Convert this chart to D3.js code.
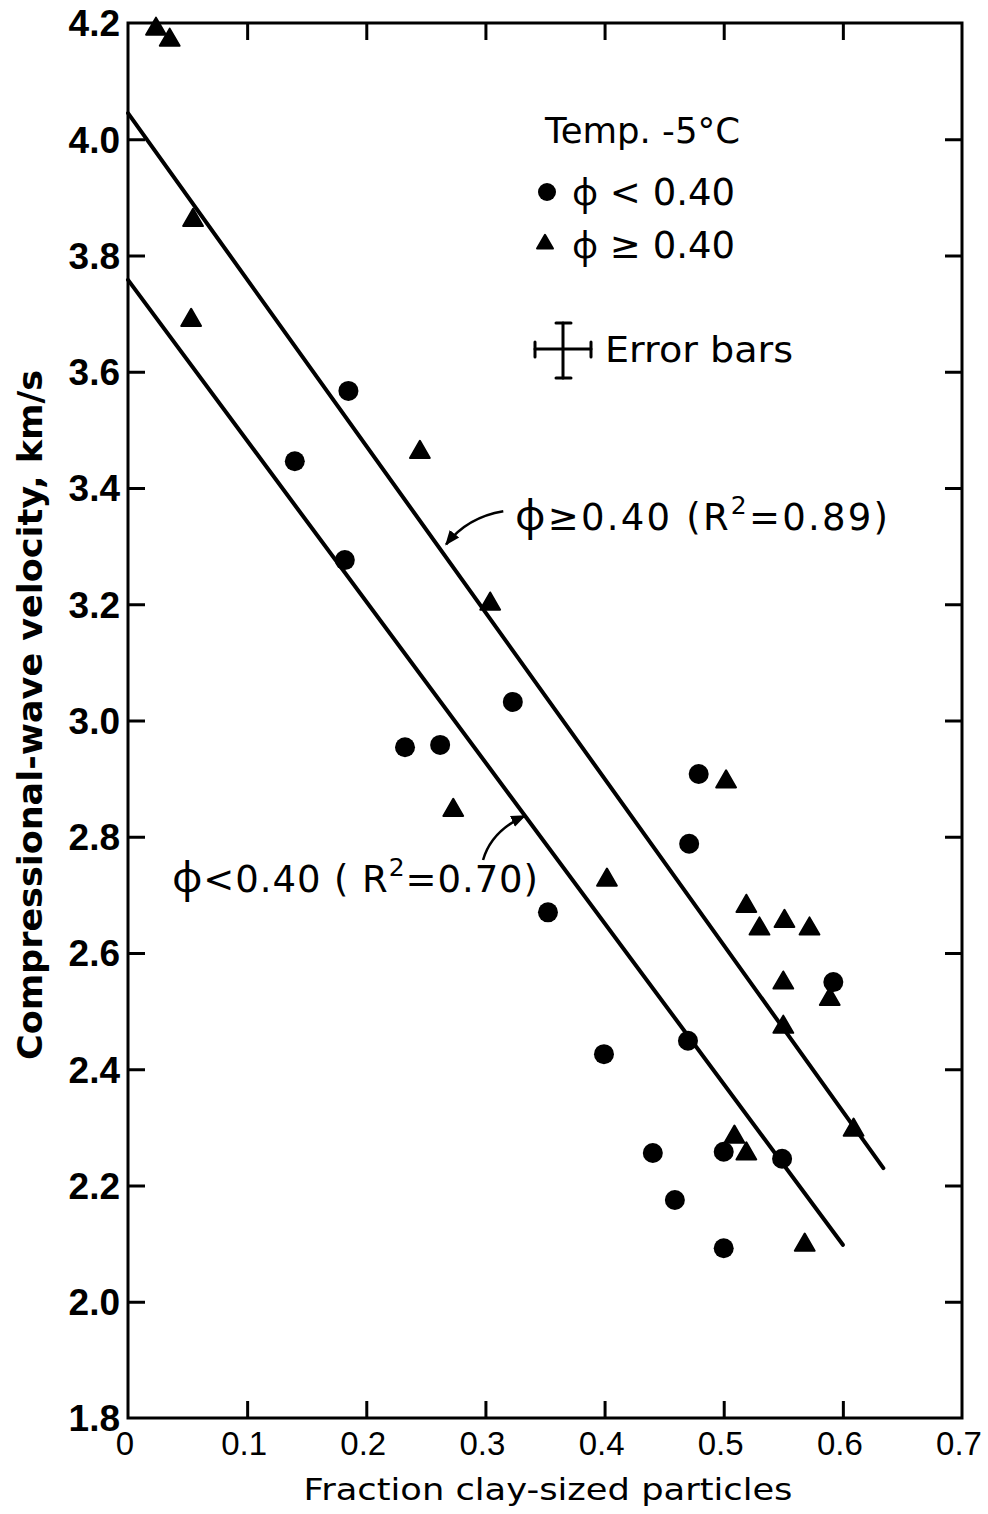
<!DOCTYPE html>
<html>
<head>
<meta charset="utf-8">
<script src="https://cdn.jsdelivr.net/npm/d3@7"></script>
<style>
  html, body { margin: 0; padding: 0; background: #fff; }
  svg { display: block; }
  text { fill: #000; font-family: "DejaVu Sans", sans-serif; }
  .phi { font-family: "Noto Sans", sans-serif; }
</style>
</head>
<body>
<svg id="chart" width="988" height="1514"></svg>
<script>
// ---- data ----
const xTicks = [0, 0.1, 0.2, 0.3, 0.4, 0.5, 0.6, 0.7];
const xTickLabels = ["0", "0.1", "0.2", "0.3", "0.4", "0.5", "0.6", "0.7"];
const yTicks = [1.8, 2.0, 2.2, 2.4, 2.6, 2.8, 3.0, 3.2, 3.4, 3.6, 3.8, 4.0, 4.2];
const yTickLabels = ["1.8", "2.0", "2.2", "2.4", "2.6", "2.8", "3.0", "3.2", "3.4", "3.6", "3.8", "4.0", "4.2"];

// phi < 0.40 (circles)
const circleX = [0.140, 0.185, 0.182, 0.2325, 0.262, 0.323, 0.3525, 0.479, 0.471, 0.592, 0.470, 0.3995, 0.4405, 0.500, 0.549, 0.459, 0.500];
const circleY = [3.446, 3.567, 3.276, 2.954, 2.958, 3.032, 2.670, 2.908, 2.788, 2.550, 2.449, 2.426, 2.256, 2.258, 2.246, 2.175, 2.092];

// phi >= 0.40 (triangles)
const triX = [0.0235, 0.035, 0.0546, 0.053, 0.245, 0.304, 0.273, 0.402, 0.502, 0.519, 0.530, 0.551, 0.572, 0.550, 0.589, 0.550, 0.609, 0.509, 0.519, 0.568];
const triY = [4.193, 4.174, 3.864, 3.692, 3.465, 3.204, 2.849, 2.729, 2.898, 2.684, 2.645, 2.658, 2.645, 2.552, 2.524, 2.476, 2.299, 2.287, 2.258, 2.101];

// regression lines [x, y] end points
const fitHigh = [[0, 4.045], [0.634, 2.23]];   // phi >= 0.40, R2 = 0.89
const fitLow = [[0, 3.758], [0.600, 2.098]];   // phi < 0.40, R2 = 0.70

// ---- layout ----
const mLeft = 128, mRight = 962, mTop = 23, mBottom = 1418;
const svg = d3.select("#chart");
const x = d3.scaleLinear().domain([0, 0.7]).range([mLeft, mRight]);
const y = d3.scaleLinear().domain([1.8, 4.2]).range([mBottom, mTop]);

const tickLen = 17;
const axisG = svg.append("g");

// frame
axisG.append("rect")
  .attr("x", mLeft).attr("y", mTop)
  .attr("width", mRight - mLeft).attr("height", mBottom - mTop)
  .attr("fill", "none").attr("stroke", "#000").attr("stroke-width", 3);

// inward ticks via d3 axes
const innerX = xTicks.filter(v => v > 0 && v < 0.7);
const innerY = yTicks.filter(v => v > 1.8 && v < 4.2);
function styleAxis(g) {
  g.select(".domain").remove();
  g.selectAll(".tick line").attr("stroke", "#000").attr("stroke-width", 3);
  g.selectAll(".tick text").remove();
}
axisG.append("g").attr("transform", `translate(0,${mBottom})`)
  .call(d3.axisBottom(x).tickValues(innerX).tickSize(-tickLen)).call(styleAxis);
axisG.append("g").attr("transform", `translate(0,${mTop})`)
  .call(d3.axisTop(x).tickValues(innerX).tickSize(-tickLen)).call(styleAxis);
axisG.append("g").attr("transform", `translate(${mLeft},0)`)
  .call(d3.axisLeft(y).tickValues(innerY).tickSize(-tickLen)).call(styleAxis);
axisG.append("g").attr("transform", `translate(${mRight},0)`)
  .call(d3.axisRight(y).tickValues(innerY).tickSize(-tickLen)).call(styleAxis);

// tick labels
svg.append("g").selectAll("text").data(xTicks).join("text")
  .attr("x", d => x(d) - 3).attr("y", 1455)
  .attr("text-anchor", "middle")
  .style("font-family", "'Liberation Sans', sans-serif")
  .style("font-size", "33px")
  .text((d, i) => xTickLabels[i]);

svg.append("g").selectAll("text").data(yTicks).join("text")
  .attr("x", 120).attr("y", d => y(d))
  .attr("dy", "0.36em")
  .attr("text-anchor", "end")
  .style("font-family", "'Liberation Sans', sans-serif")
  .style("font-weight", "bold")
  .style("font-size", "37px")
  .text((d, i) => yTickLabels[i]);

// axis titles
svg.append("text")
  .attr("x", 548).attr("y", 1500)
  .attr("text-anchor", "middle")
  .attr("textLength", 489).attr("lengthAdjust", "spacingAndGlyphs")
  .style("font-size", "31px")
  .text("Fraction clay-sized particles");

svg.append("text")
  .attr("transform", "translate(42,715) rotate(-90)")
  .attr("text-anchor", "middle")
  .attr("textLength", 690).attr("lengthAdjust", "spacingAndGlyphs")
  .style("font-size", "33px")
  .style("font-weight", "bold")
  .text("Compressional-wave velocity, km/s");

// regression lines
const line = d3.line().x(d => x(d[0])).y(d => y(d[1]));
svg.append("path").datum(fitHigh).attr("d", line)
  .attr("stroke", "#000").attr("stroke-width", 4).attr("fill", "none").attr("stroke-linecap", "round");
svg.append("path").datum(fitLow).attr("d", line)
  .attr("stroke", "#000").attr("stroke-width", 4).attr("fill", "none").attr("stroke-linecap", "round");

// points
const circles = circleX.map((v, i) => [v, circleY[i]]);
const tris = triX.map((v, i) => [v, triY[i]]);
svg.append("g").selectAll("circle").data(circles).join("circle")
  .attr("cx", d => x(d[0])).attr("cy", d => y(d[1])).attr("r", 10).attr("fill", "#000");
const triSym = d3.symbol().type(d3.symbolTriangle).size(170);
svg.append("g").selectAll("path").data(tris).join("path")
  .attr("d", triSym)
  .attr("transform", d => `translate(${x(d[0])},${y(d[1]) + 2})`)
  .attr("fill", "#000").attr("stroke", "#000").attr("stroke-width", 2).attr("stroke-linejoin", "round");

// legend
svg.append("text").attr("x", 545).attr("y", 143).attr("textLength", 195).attr("lengthAdjust", "spacingAndGlyphs")
  .style("font-size", "36px").text("Temp. -5°C");
svg.append("circle").attr("cx", 547).attr("cy", 192).attr("r", 9).attr("fill", "#000");
const l1 = svg.append("text").attr("x", 572).attr("y", 205).style("font-size", "37px");
l1.append("tspan").attr("class", "phi").style("font-size", "36px").text("ϕ");
l1.append("tspan").text(" < 0.40");
svg.append("path").attr("d", d3.symbol().type(d3.symbolTriangle).size(110))
  .attr("transform", "translate(545,244)").attr("fill", "#000")
  .attr("stroke", "#000").attr("stroke-width", 2).attr("stroke-linejoin", "round");
const l2 = svg.append("text").attr("x", 572).attr("y", 258).style("font-size", "37px");
l2.append("tspan").attr("class", "phi").style("font-size", "36px").text("ϕ");
l2.append("tspan").text(" ≥ 0.40");

// error bar icon
const eb = svg.append("g").attr("stroke", "#000").attr("stroke-width", 3).attr("stroke-linecap", "round");
eb.append("line").attr("x1", 535).attr("x2", 591).attr("y1", 349).attr("y2", 349);
eb.append("line").attr("x1", 535).attr("x2", 535).attr("y1", 342).attr("y2", 357);
eb.append("line").attr("x1", 591).attr("x2", 591).attr("y1", 342).attr("y2", 357);
eb.append("line").attr("x1", 563).attr("x2", 563).attr("y1", 323).attr("y2", 378);
eb.append("line").attr("x1", 556).attr("x2", 571).attr("y1", 323).attr("y2", 323);
eb.append("line").attr("x1", 556).attr("x2", 571).attr("y1", 378).attr("y2", 378);
svg.append("text").attr("x", 605).attr("y", 362).attr("textLength", 188).attr("lengthAdjust", "spacingAndGlyphs")
  .style("font-size", "36px").text("Error bars");

// annotations
const t1 = svg.append("text").attr("x", 515).attr("y", 530).style("font-size", "37px")
  .attr("textLength", 373).attr("lengthAdjust", "spacing");
t1.append("tspan").attr("class", "phi").style("font-size", "42px").text("ϕ");
t1.append("tspan").text("≥0.40 (R");
t1.append("tspan").attr("dy", -16).style("font-size", "25px").text("2");
t1.append("tspan").attr("dy", 16).text("=0.89)");

const t2 = svg.append("text").attr("x", 172).attr("y", 892).style("font-size", "37px")
  .attr("textLength", 366).attr("lengthAdjust", "spacing");
t2.append("tspan").attr("class", "phi").style("font-size", "42px").text("ϕ");
t2.append("tspan").text("<0.40 ( R");
t2.append("tspan").attr("dy", -16).style("font-size", "25px").text("2");
t2.append("tspan").attr("dy", 16).text("=0.70)");

// arrows (positions in data space)
const defs = svg.append("defs");
defs.append("marker").attr("id", "ah").attr("viewBox", "0 0 10 10")
  .attr("refX", 9).attr("refY", 5).attr("markerWidth", 6).attr("markerHeight", 6)
  .attr("markerUnits", "strokeWidth").attr("orient", "auto")
  .append("path").attr("d", "M0,1 L10,5 L0,9 Z").attr("fill", "#000");

function arrow(p0, c, p1) {
  svg.append("path")
    .attr("d", `M${x(p0[0])},${y(p0[1])} Q${x(c[0])},${y(c[1])} ${x(p1[0])},${y(p1[1])}`)
    .attr("fill", "none").attr("stroke", "#000").attr("stroke-width", 2.5)
    .attr("marker-end", "url(#ah)");
}
arrow([0.315, 3.36], [0.285, 3.35], [0.267, 3.303]);
arrow([0.298, 2.76], [0.305, 2.81], [0.333, 2.836]);
</script>
</body>
</html>
